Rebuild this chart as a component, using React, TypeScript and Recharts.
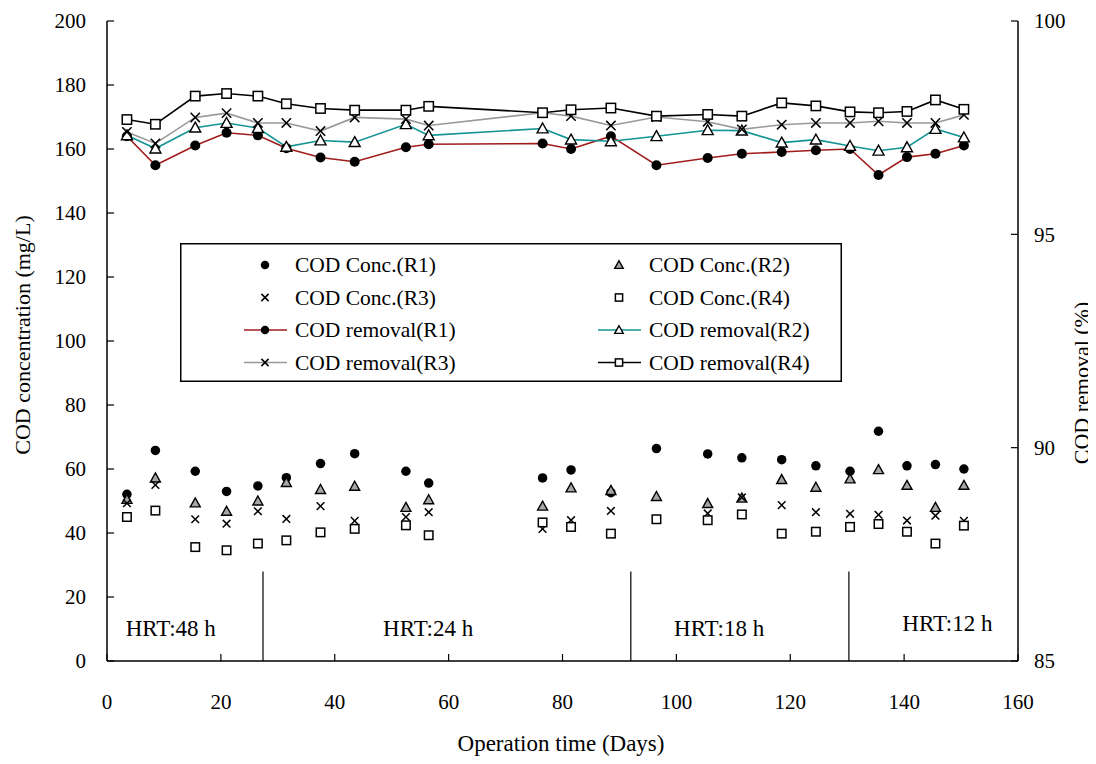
import React from 'react';
import {
  ComposedChart,
  Line,
  Scatter,
  XAxis,
  YAxis,
  ReferenceLine,
  ReferenceDot,
  Legend,
} from 'recharts';

// operation days of each sample
const days = [3.5, 8.5, 15.5, 21, 26.5, 31.5, 37.5, 43.5, 52.5, 56.5, 76.5, 81.5, 88.5, 96.5, 105.5, 111.5, 118.5, 124.5, 130.5, 135.5, 140.5, 145.5, 150.5];

// effluent COD concentration (mg/L), left axis
const concR1 = [52.1, 65.8, 59.3, 53.0, 54.7, 57.3, 61.7, 64.8, 59.3, 55.6, 57.2, 59.7, 52.6, 66.4, 64.7, 63.5, 62.9, 61.0, 59.3, 71.8, 61.0, 61.4, 60.0];
const concR2 = [50.5, 57.2, 49.4, 46.8, 50.0, 55.8, 53.6, 54.6, 48.0, 50.4, 48.4, 54.1, 53.3, 51.4, 49.2, 50.9, 56.7, 54.3, 56.9, 59.8, 54.9, 48.0, 54.9];
const concR3 = [49.3, 55.0, 44.3, 42.9, 46.8, 44.4, 48.4, 43.8, 45.0, 46.5, 41.3, 44.0, 46.9, 44.2, 46.1, 51.1, 48.7, 46.5, 46.0, 45.7, 43.9, 45.4, 43.8];
const concR4 = [45.0, 47.0, 35.6, 34.6, 36.7, 37.7, 40.2, 41.3, 42.4, 39.3, 43.3, 41.9, 39.8, 44.3, 44.0, 45.8, 39.8, 40.4, 41.9, 42.8, 40.4, 36.7, 42.3];

// COD removal (%), right axis
const removalR1 = [97.30, 96.62, 97.08, 97.38, 97.32, 97.02, 96.80, 96.70, 97.04, 97.11, 97.13, 97.00, 97.30, 96.62, 96.79, 96.89, 96.93, 96.97, 97.00, 96.39, 96.81, 96.89, 97.08];
const removalR2 = [97.32, 97.01, 97.50, 97.61, 97.49, 97.05, 97.20, 97.16, 97.58, 97.32, 97.48, 97.22, 97.18, 97.30, 97.44, 97.43, 97.15, 97.22, 97.07, 96.96, 97.04, 97.47, 97.27];
const removalR3 = [97.40, 97.13, 97.74, 97.84, 97.61, 97.61, 97.42, 97.74, 97.70, 97.55, 97.85, 97.77, 97.55, 97.75, 97.64, 97.46, 97.57, 97.61, 97.61, 97.65, 97.61, 97.61, 97.80];
const removalR4 = [97.69, 97.58, 98.24, 98.30, 98.24, 98.06, 97.95, 97.91, 97.91, 98.00, 97.85, 97.92, 97.96, 97.77, 97.81, 97.77, 98.08, 98.01, 97.87, 97.85, 97.88, 98.15, 97.93];

const xTicks = [0, 20, 40, 60, 80, 100, 120, 140, 160];
const leftTicks = [0, 20, 40, 60, 80, 100, 120, 140, 160, 180, 200];
const rightTicks = [85, 90, 95, 100];

// HRT phase boundaries and labels
const hrtBounds = [27.4, 92.0, 130.3];
const hrtTop = 28;
const hrtLabels = ['HRT:48 h', 'HRT:24 h', 'HRT:18 h', 'HRT:12 h'];
const hrtLabelDays = [11.2, 56.4, 107.5, 147.6];
const hrtLabelLevels = [10.5, 10.5, 10.5, 11.9];

const FONT = "'Liberation Serif', 'Times New Roman', serif";

const removalData = days.map((day, i) => ({
  day,
  r1: removalR1[i],
  r2: removalR2[i],
  r3: removalR3[i],
  r4: removalR4[i],
}));

const toPoints = (vals: number[]) => days.map((day, i) => ({ day, value: vals[i] }));

type Kind = 'circle' | 'triangle' | 'cross' | 'square';

function Marker({ cx, cy, kind, size, fill }: { cx: number; cy: number; kind: Kind; size: number; fill: string }) {
  if (cx == null || cy == null) return null;
  const h = size / 2;
  if (kind === 'circle') return <circle cx={cx} cy={cy} r={h} fill="#000" />;
  if (kind === 'triangle') {
    const pts = `${cx},${cy - h} ${cx + h},${cy + h * 0.8} ${cx - h},${cy + h * 0.8}`;
    return <polygon points={pts} fill={fill} stroke="#000" strokeWidth={1.4} />;
  }
  if (kind === 'cross') {
    const d = h * 0.85;
    return (
      <g stroke="#000" strokeWidth={1.5}>
        <line x1={cx - d} y1={cy - d} x2={cx + d} y2={cy + d} />
        <line x1={cx - d} y1={cy + d} x2={cx + d} y2={cy - d} />
      </g>
    );
  }
  return <rect x={cx - h * 0.85} y={cy - h * 0.85} width={h * 1.7} height={h * 1.7} fill="#fff" stroke="#000" strokeWidth={1.5} />;
}

const legendItems: { label: string; kind: Kind; fill: string; line?: string }[] = [
  { label: 'COD Conc.(R1)', kind: 'circle', fill: '#000' },
  { label: 'COD Conc.(R2)', kind: 'triangle', fill: '#a6a6a6' },
  { label: 'COD Conc.(R3)', kind: 'cross', fill: '#000' },
  { label: 'COD Conc.(R4)', kind: 'square', fill: '#fff' },
  { label: 'COD removal(R1)', kind: 'circle', fill: '#000', line: '#a01c1c' },
  { label: 'COD removal(R2)', kind: 'triangle', fill: '#fff', line: '#149494' },
  { label: 'COD removal(R3)', kind: 'cross', fill: '#000', line: '#999999' },
  { label: 'COD removal(R4)', kind: 'square', fill: '#fff', line: '#000' },
];

function LegendBox() {
  return (
    <svg width={662} height={139} style={{ display: 'block' }}>
      <rect x={0.75} y={0.75} width={660.5} height={137.5} fill="#fff" stroke="#000" strokeWidth={1.5} />
      {legendItems.map((it, i) => {
        const col = i % 2;
        const row = Math.floor(i / 2);
        const y = 22 + row * 32.5;
        const x0 = col ? 418 : 64;
        const mx = x0 + 21;
        return (
          <g key={it.label}>
            {it.line && <line x1={x0} y1={y} x2={x0 + 43} y2={y} stroke={it.line} strokeWidth={1.5} />}
            <Marker cx={mx} cy={y} kind={it.kind} size={8.5} fill={it.fill} />
            <text x={x0 + 51} y={y} dominantBaseline="central" fontFamily={FONT} fontSize={21.5} fill="#000">
              {it.label}
            </text>
          </g>
        );
      })}
    </svg>
  );
}

const tickStyle = { fill: '#000', fontSize: 21, fontFamily: FONT };
const axisLine = { stroke: '#000', strokeWidth: 1.5 };
const tickLine = { stroke: '#000', strokeWidth: 1.2 };

const lineSeries: { key: string; color: string; kind: Kind; fill: string }[] = [
  { key: 'r1', color: '#a01c1c', kind: 'circle', fill: '#000' },
  { key: 'r2', color: '#149494', kind: 'triangle', fill: '#fff' },
  { key: 'r3', color: '#999999', kind: 'cross', fill: '#000' },
  { key: 'r4', color: '#000000', kind: 'square', fill: '#fff' },
];

const scatterSeries: { vals: number[]; kind: Kind; fill: string; size: number }[] = [
  { vals: concR1, kind: 'circle', fill: '#000', size: 9.5 },
  { vals: concR2, kind: 'triangle', fill: '#a6a6a6', size: 10 },
  { vals: concR3, kind: 'cross', fill: '#000', size: 9 },
  { vals: concR4, kind: 'square', fill: '#fff', size: 10 },
];

export default function App() {
  return (
    <ComposedChart
      width={1088}
      height={748}
      data={removalData}
      margin={{ top: 13, right: 18, bottom: 55, left: 29 }}
    >
      <XAxis
        type="number"
        dataKey="day"
        domain={[0, 160]}
        ticks={xTicks}
        interval={0}
        tick={tickStyle}
        axisLine={axisLine}
        tickLine={tickLine}
        tickSize={-7}
        tickMargin={40}
        height={40}
      />
      <YAxis
        yAxisId="left"
        dataKey="value"
        domain={[0, 200]}
        ticks={leftTicks}
        interval={0}
        tick={tickStyle}
        axisLine={axisLine}
        tickLine={tickLine}
        tickSize={-7}
        tickMargin={28}
        width={70}
      />
      <YAxis
        yAxisId="right"
        orientation="right"
        domain={[85, 100]}
        ticks={rightTicks}
        interval={0}
        tick={tickStyle}
        axisLine={axisLine}
        tickLine={tickLine}
        tickSize={-7}
        tickMargin={23}
        width={60}
      />

      {hrtBounds.map((b) => (
        <ReferenceLine
          key={b}
          yAxisId="left"
          segment={[{ x: b, y: 0 }, { x: b, y: hrtTop }]}
          stroke="#000"
          strokeWidth={1.2}
        />
      ))}
      {hrtLabels.map((t, i) => (
        <ReferenceDot
          key={t}
          yAxisId="left"
          x={hrtLabelDays[i]}
          y={hrtLabelLevels[i]}
          r={0}
          fill="none"
          stroke="none"
          label={{ value: t, position: 'center', fill: '#000', fontSize: 23, fontFamily: FONT }}
        />
      ))}

      {lineSeries.map((s) => (
        <Line
          key={s.key}
          yAxisId="right"
          type="linear"
          dataKey={s.key}
          stroke={s.color}
          strokeWidth={1.6}
          isAnimationActive={false}
          legendType="none"
          dot={(p: any) => (
            <Marker key={`${s.key}-${p.index}`} cx={p.cx} cy={p.cy} kind={s.kind} size={s.kind === 'circle' ? 10 : 11} fill={s.fill} />
          )}
          activeDot={false}
        />
      ))}

      {scatterSeries.map((s, i) => (
        <Scatter
          key={`c${i}`}
          yAxisId="left"
          data={toPoints(s.vals)}
          dataKey="value"
          isAnimationActive={false}
          legendType="none"
          shape={(p: any) => <Marker cx={p.cx} cy={p.cy} kind={s.kind} size={s.size} fill={s.fill} />}
        />
      ))}

      <Legend
        layout="vertical"
        align="center"
        verticalAlign="middle"
        width={662}
        height={139}
        wrapperStyle={{ left: 172, top: 235, width: 662, height: 139 }}
        content={() => <LegendBox />}
      />

      <text x={14} y={327} transform="rotate(-90 14 327)" textAnchor="middle" dominantBaseline="central" fontFamily={FONT} fontSize={22} fill="#000">
        COD concentration (mg/L)
      </text>
      <text x={1073} y={375} transform="rotate(-90 1073 375)" textAnchor="middle" dominantBaseline="central" fontFamily={FONT} fontSize={22} fill="#000">
        COD removal (%)
      </text>
      <text x={553} y={743} textAnchor="middle" fontFamily={FONT} fontSize={23} fill="#000">
        Operation time (Days)
      </text>
    </ComposedChart>
  );
}
